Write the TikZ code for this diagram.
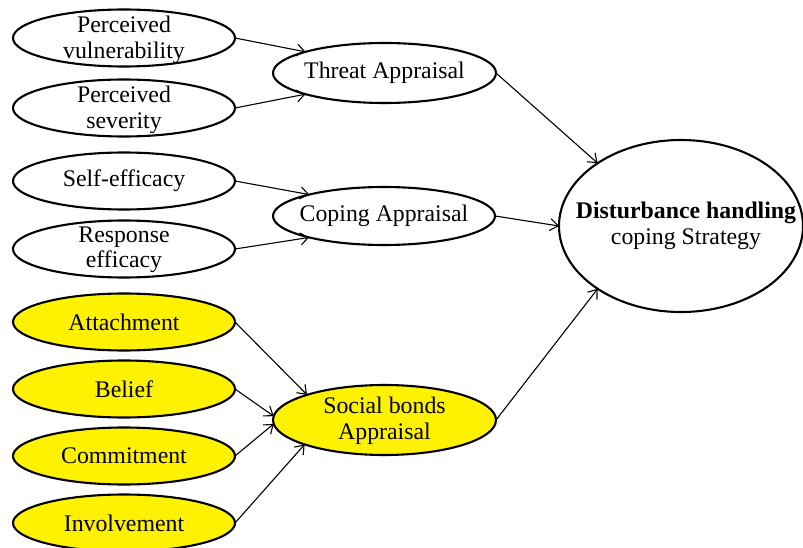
\documentclass[tikz,border=0pt]{standalone}
\usepackage{fontspec}
\setmainfont{Liberation Serif}
\usetikzlibrary{arrows.meta,shapes.geometric}
\begin{document}
\begin{tikzpicture}[x=1pt,y=-1pt,
 elli/.style={ellipse,draw,line width=2.1pt,minimum width=222pt,minimum height=57pt,inner sep=0pt,outer sep=0pt},
 yel/.style={elli,fill=yellow},
 txt/.style={align=center,font=\fontsize{23.8}{25.5}\selectfont,inner sep=0pt},
 arr/.style={line width=1.1pt,-{Straight Barb[length=8pt,width=12pt]}}]
\useasboundingbox[fill=white] (0,0) rectangle (803,548);
% left column
\node[elli] (pv) at (124,38) {};
\node[elli] (ps) at (124,108) {};
\node[elli] (se) at (124,181) {};
\node[elli] (re) at (124,249) {};
\node[yel] (att) at (124,322) {};
\node[yel] (bel) at (124,389) {};
\node[yel] (com) at (124,456) {};
\node[yel] (inv) at (124,523) {};
% middle column
\node[elli,minimum width=223pt,minimum height=60pt] (ta) at (384.5,73) {};
\node[elli,minimum width=222pt,minimum height=58pt] (ca) at (384,216) {};
\node[yel,minimum width=223pt,minimum height=70pt] (sba) at (384.5,420) {};
% right
\node[elli,minimum width=244pt,minimum height=172pt] (big) at (681,226) {};
% texts
\node[txt] (pvt) at ([yshift=-2pt]pv.center) {Perceived\\vulnerability};
\node[txt] (pst) at ([yshift=-2pt]ps.center) {Perceived\\severity};
\node[txt] (set) at (se) {Self-efficacy};
\node[txt] (ret) at ([yshift=-1pt]re.center) {Response\\efficacy};
\node[txt] (attt) at (att) {Attachment};
\node[txt] (belt) at (bel) {Belief};
\node[txt] (comt) at (com) {Commitment};
\node[txt] (invt) at (inv) {Involvement};
\node[txt] (tat) at (ta) {Threat Appraisal};
\node[txt] (cat) at (ca) {Coping Appraisal};
\node[txt] (sbat) at ([yshift=-1pt]sba.center) {Social bonds\\Appraisal};
\node[txt] (bigt) at ([xshift=5pt]big.center) {\textbf{Disturbance handling}\\coping Strategy};
% arrows
\draw[arr] (pv.east) -- (ta.165);
\draw[arr] (ps.east) -- (ta.195);
\draw[arr] (ta.east) -- (big.143);
\draw[arr] (se.east) -- (ca.164);
\draw[arr] (re.east) -- (ca.196);
\draw[arr] (ca.east) -- (big.west);
\draw[arr] (att.east) -- (sba.162);
\draw[arr] (bel.east) -- (sba.178);
\draw[arr] (com.east) -- (sba.182);
\draw[arr] (inv.east) -- (sba.197);
\draw[arr] (sba.east) -- (big.217);
\end{tikzpicture}
\end{document}
